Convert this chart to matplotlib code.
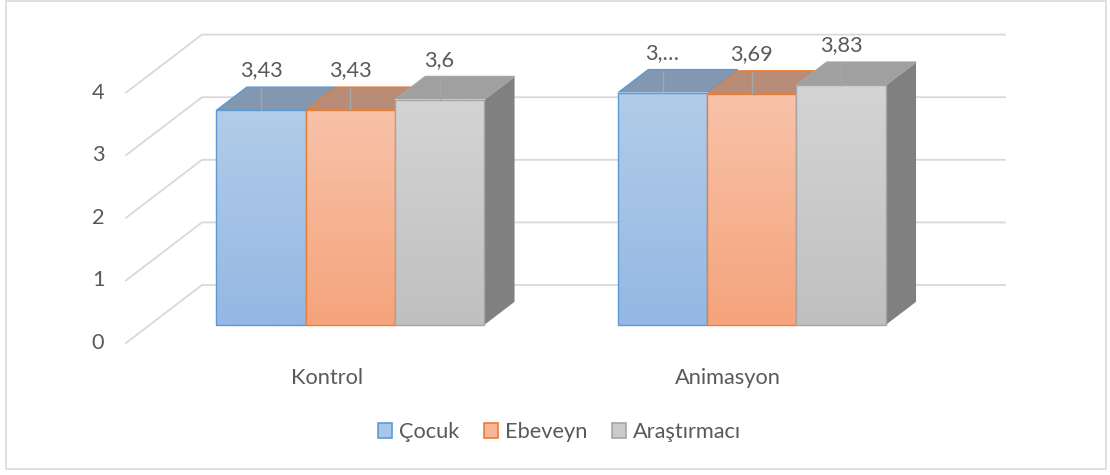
import numpy as np
import matplotlib
matplotlib.use('Agg')
import matplotlib.pyplot as plt
from matplotlib.patches import Polygon, Rectangle, Patch

# ---------------- data ----------------
categories = ['Kontrol', 'Animasyon']
series = ['Çocuk', 'Ebeveyn', 'Araştırmacı']
cocuk = [3.43, 3.71]
ebeveyn = [3.43, 3.69]
arastirmaci = [3.60, 3.83]
data_labels = [['3,43', '3,…'], ['3,43', '3,69'], ['3,6', '3,83']]
yticks = [0, 1, 2, 3, 4]

values = [cocuk, ebeveyn, arastirmaci]

# ---------------- style ----------------
plt.rcParams['font.family'] = ['Lato', 'DejaVu Sans']
TXT = '#595959'
GRID = '#d9d9d9'
FS = 15.7
front_top = ['#b2cce9', '#f8c2a9', '#d4d4d4']
front_bot = ['#94b8e3', '#f5a47c', '#c0c0c0']
edge_c = ['#5b9bd5', '#ed7d31', '#a5a5a5']
top_c = ['#8497b0', '#b98c77', '#a0a0a0']
side_c = ['#5f7fa5', '#a9704f', '#808080']
legend_fill = ['#a9c5e8', '#f7b697', '#cacaca']

# oblique projection (pixel space of the figure)
X0, Y0 = 126.0, 343.0      # floor front-left at value 0
SY = 62.6                  # pixels per value unit
CW = 401.5                 # pixels per category
DX, DY = 76.0, 58.0        # full depth offset
Z0, Z1 = 0.31, 0.71        # bar depth extent
GAP = 1.5                  # gap width (fraction of bar width)


def proj(u, v, z):
    return X0 + u * CW + z * DX, Y0 - v * SY - z * DY


fig = plt.figure(figsize=(11.1, 4.75), dpi=100)
ax = fig.add_axes([0, 0, 1, 1])
ax.set_xlim(0, 1110)
ax.set_ylim(475, 0)
ax.axis('off')

# chart border
ax.add_patch(Rectangle((6, 1), 1100, 468, fill=False, ec=GRID, lw=1.2, zorder=0))

# walls gridlines
ncat = len(categories)
for t in yticks:
    xf, yf = proj(0, t, 0)
    xb, yb = proj(0, t, 1)
    xe, ye = proj(ncat, t, 1)
    ax.plot([xf, xb, xe], [yf, yb, ye], color=GRID, lw=1.3, zorder=1,
            solid_joinstyle='miter')
    ax.text(xf - 28, yf, str(t), ha='center', va='center', fontsize=FS, color=TXT)

nser = len(series)
bw = 1.0 / (nser + GAP)
z = 2
for c in range(ncat):
    for s in range(nser):
        v = values[s][c]
        ul = c + GAP * bw / 2 + s * bw
        ur = ul + bw
        # side face
        side = [proj(ur, 0, Z0), proj(ur, 0, Z1), proj(ur, v, Z1), proj(ur, v, Z0)]
        ax.add_patch(Polygon(side, closed=True, fc=side_c[s], ec='none', zorder=z))
        # top face
        top = [proj(ul, v, Z0), proj(ur, v, Z0), proj(ur, v, Z1), proj(ul, v, Z1)]
        ax.add_patch(Polygon(top, closed=True, fc=top_c[s], ec=edge_c[s], lw=1.0,
                             zorder=z + 0.1, joinstyle='miter'))
        # front face with gradient
        xl, yb_ = proj(ul, 0, Z0)
        xr, yt_ = proj(ur, v, Z0)
        c1 = np.array(matplotlib.colors.to_rgb(front_top[s]))
        c2 = np.array(matplotlib.colors.to_rgb(front_bot[s]))
        tt = np.linspace(0, 1, 64)[:, None]
        grad = (c1[None, :] * (1 - tt) + c2[None, :] * tt)[:, None, :]
        ax.imshow(grad, extent=[xl, xr, yb_, yt_], origin='upper', aspect='auto',
                  interpolation='bilinear', zorder=z + 0.2)
        ax.add_patch(Rectangle((xl, yt_), xr - xl, yb_ - yt_, fill=False,
                               ec=edge_c[s], lw=1.0, zorder=z + 0.3, joinstyle='miter'))
        z += 1

# leader lines and data labels (on top)
for c in range(ncat):
    for s in range(nser):
        v = values[s][c]
        ul = c + GAP * bw / 2 + s * bw
        um = ul + bw / 2
        xm, yft = proj(um, v, Z0)
        _, ybk = proj(um, v, Z1)
        ax.plot([xm, xm], [yft, ybk + 1], color='#a6a6a6', lw=1.0, zorder=50)
        ax.text(xm, yft - 40, data_labels[s][c], ha='center', va='center',
                fontsize=FS, color=TXT, zorder=51)

# category labels
for c, name in enumerate(categories):
    xc, _ = proj(c + 0.5, 0, 0)
    ax.text(xc, 378, name, ha='center', va='center', fontsize=FS, color=TXT)

# legend
handles = [Patch(fc=legend_fill[i], ec=edge_c[i], lw=1.2, label=series[i])
           for i in range(nser)]
fig.legend(handles=handles, loc='center', bbox_to_anchor=(0.504, 0.09), ncol=3,
           frameon=False, fontsize=FS, labelcolor=TXT, handlelength=0.64,
           handleheight=0.64, handletextpad=0.3, columnspacing=1.15,
           borderpad=0, borderaxespad=0)

fig.savefig('out.png', dpi=100)
